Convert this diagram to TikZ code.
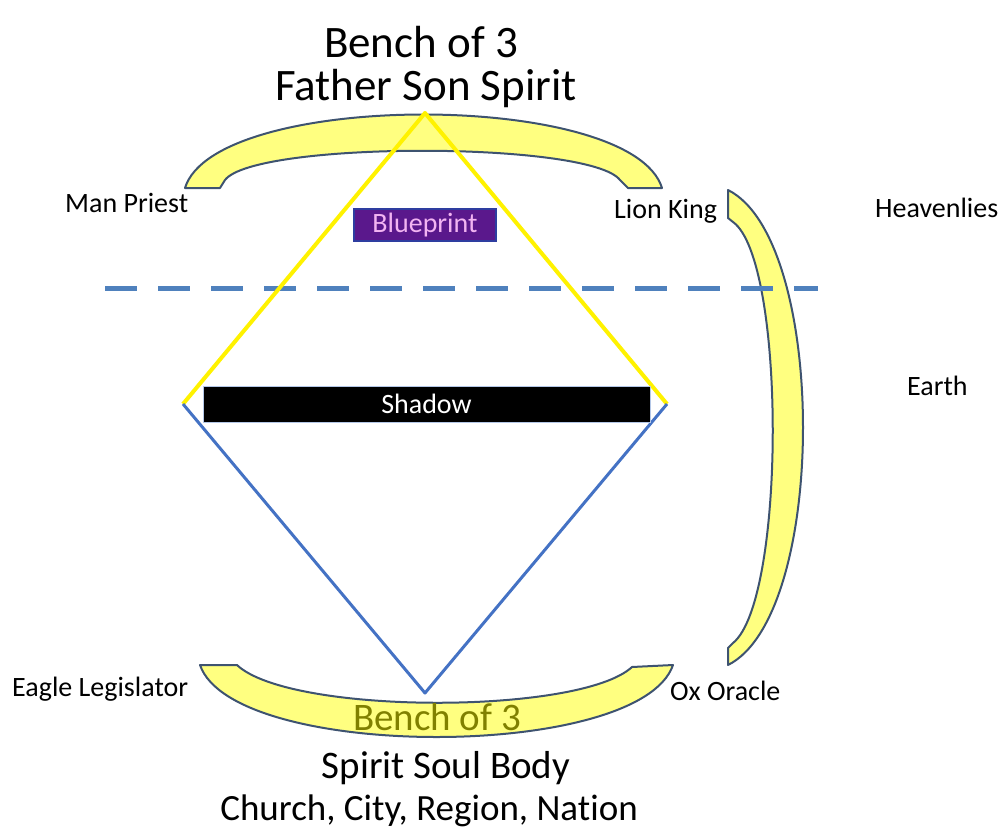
\documentclass[tikz,border=0pt]{standalone}
\usepackage{fontspec}
\setmainfont{Carlito}[Ligatures=NoCommon]
\usepackage{tikz}

\definecolor{benchfill}{RGB}{255,255,128}
\definecolor{benchline}{RGB}{62,83,112}
\definecolor{dashblue}{RGB}{79,129,189}
\definecolor{edgeblue}{RGB}{68,114,196}
\definecolor{bpfill}{RGB}{90,24,140}
\definecolor{bpline}{RGB}{46,61,160}
\definecolor{bptext}{RGB}{242,180,242}
\definecolor{olive}{RGB}{128,128,0}

\begin{document}
\begin{tikzpicture}[x=1pt,y=-1pt,
  bench/.style={draw=benchline,fill=benchfill,line width=2pt,line join=round},
  lbl/.style={font=\fontsize{28}{30}\selectfont,inner sep=0pt},
  big/.style={font=\fontsize{45}{50}\selectfont,inner sep=0pt},
  mid/.style={font=\fontsize{39}{44}\selectfont,inner sep=0pt}]
\useasboundingbox (0,0) rectangle (1005,831);

% the three benches
\draw[bench] (185,188) .. controls (215,90) and (632,90) .. (662,188)
  -- (628,188) -- (620,180) .. controls (590,141) and (255,141) .. (225,180)
  -- (220,188) -- cycle;
\draw[bench] (728,190) .. controls (828,240) and (828,615) .. (728,665)
  -- (728,648) -- (733,643) .. controls (786,600) and (786,260) .. (733,222)
  -- (728,218) -- cycle;
\draw[bench] (200,665) -- (237,665) .. controls (290,715) and (580,715) .. (632,667)
  -- (673,665) .. controls (640,761) and (233,761) .. cycle;

% heaven / earth line
\draw[dashblue,line width=5pt,dash pattern=on 32pt off 21pt] (105,288) -- (818,288);

% corners
\coordinate (apex) at (425,113);
\coordinate (west) at (183,404);
\coordinate (east) at (667,404);
\coordinate (foot) at (425,693);

\draw[yellow,line width=4pt,line join=round] (west) -- (apex) -- (east);
\draw[edgeblue,line width=3pt,line join=round] (west) -- (foot) -- (east);

\node[fill=black,draw=edgeblue!40,line width=1pt,minimum width=447pt,minimum height=36pt,
  inner sep=0pt,text=white,font=\fontsize{28}{30}\selectfont] (shadow) at (426.5,404) {Shadow};
\node[fill=bpfill,draw=bpline,line width=2pt,minimum width=142pt,minimum height=32pt,
  inner sep=0pt,text=bptext,font=\fontsize{28}{30}\selectfont] (blueprint) at (425,225) {Blueprint};

% titles
\node[big,anchor=base] (toptitle) at (421,57) {Bench of 3};
\node[big,anchor=base] (topnames) at (426,100) {Father Son Spirit};
\node[mid,anchor=base,text=olive] (bottitle) at (437,730) {Bench of 3};
\node[mid,anchor=base] (botnames) at (446,778) {Spirit Soul Body};
\node[mid,anchor=base,font=\fontsize{37}{40}\selectfont] (botplaces) at (429,820) {Church, City, Region, Nation};

% side labels
\node[lbl,anchor=base west] (man) at (65,212) {Man Priest};
\node[lbl,anchor=base west] (lion) at (614,218) {Lion King};
\node[lbl,anchor=base west] (heaven) at (875,217) {Heavenlies};
\node[lbl,anchor=base west] (earth) at (907,395) {Earth};
\node[lbl,anchor=base west] (eagle) at (12,696) {Eagle Legislator};
\node[lbl,anchor=base west] (ox) at (670,700) {Ox Oracle};
\end{tikzpicture}
\end{document}
